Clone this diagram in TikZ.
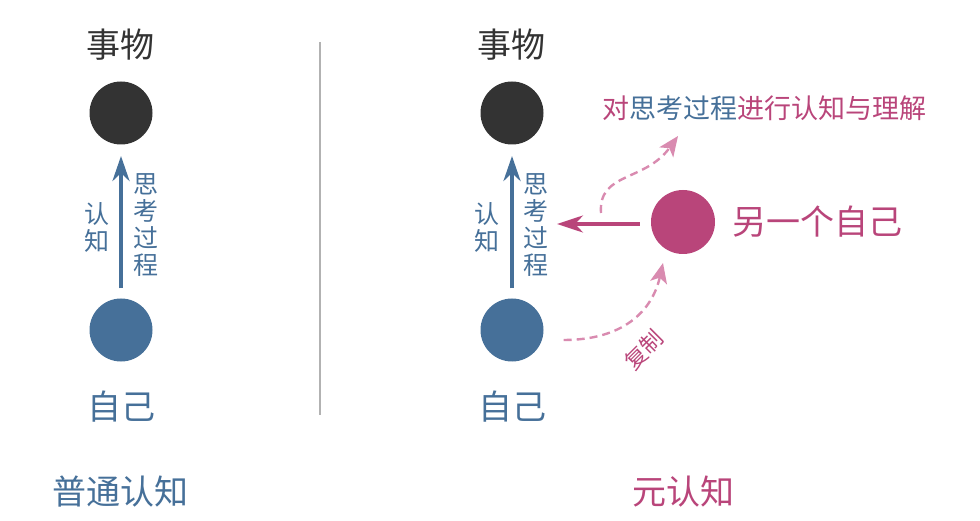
\documentclass[tikz,border=0pt]{standalone}
\usepackage{fontspec}
\setmainfont{Noto Sans CJK SC}
\usetikzlibrary{arrows.meta}
\usetikzlibrary{positioning}

\definecolor{thingdark}{HTML}{333333}
\definecolor{selfblue}{HTML}{467099}
\definecolor{metapink}{HTML}{B9457A}
\definecolor{copypink}{HTML}{D98BB0}

\tikzset{
    dot/.style={circle, minimum size=63pt, inner sep=0pt},
    bigtext/.style={font=\fontsize{34}{34}\selectfont},
    vtext/.style={font=\fontsize{25}{27}\selectfont, align=center, inner sep=0pt},
    thinkarrow/.style={-{Stealth[length=25pt,width=17pt,inset=8pt]}, line width=4pt, selfblue},
    copyarrow/.style={-{Stealth[length=20pt,width=17pt,inset=5pt]}, line width=2.4pt, copypink, dash pattern=on 8pt off 5pt}
}

\begin{document}
\begin{tikzpicture}[x=1pt, y=-1pt]
        \useasboundingbox (0,0) rectangle (980,521);

        % left: ordinary cognition
        \node[bigtext, thingdark] (thingL) at (120,45) {事物};
        \node[dot, fill=thingdark] (objL) at (121,113) {};
        \node[dot, fill=selfblue] (selfL) at (121,330) {};
        \node[bigtext, selfblue] (meL) at (121,407) {自己};
        \draw[thinkarrow] (selfL.north) ++(0,-10) coordinate (startL) -- (121,156) coordinate (endL);
        \node[vtext, selfblue] (knowL) at (97,227) {认\\知};
        \node[vtext, selfblue] (procL) at (146,225) {思\\考\\过\\程};
        \node[bigtext, selfblue] (titleL) at (120,492) {普通认知};

        % divider
        \draw[line width=1.5pt, gray!60] (320,42) coordinate (divtop) -- (320,415) coordinate (divbot);

        % right: metacognition
        \node[bigtext, thingdark] (thingR) at (511,45) {事物};
        \node[dot, fill=thingdark] (objR) at (512,113) {};
        \node[dot, fill=selfblue] (selfR) at (512,330) {};
        \node[bigtext, selfblue] (meR) at (512,407) {自己};
        \draw[thinkarrow] (selfR.north) ++(0,-10) coordinate (startR) -- (512,156) coordinate (endR);
        \node[vtext, selfblue] (knowR) at (487,227) {认\\知};
        \node[vtext, selfblue] (procR) at (536,225) {思\\考\\过\\程};
        \node[bigtext, metapink] (titleR) at (683,492) {元认知};

        % the other self
        \node[dot, fill=metapink, minimum size=64pt] (other) at (683,222) {};
        \node[bigtext, metapink, right=14pt of other] (otherlabel) {另一个自己};
        \draw[-{Stealth[length=26pt,width=17pt,inset=8pt]}, line width=3.3pt, metapink]
            (other.west) ++(-11,2) coordinate (watchfrom) -- (557,224) coordinate (watchto);

        % dashed copy arrows
        \node[font=\fontsize{27}{27}\selectfont, metapink] (understand) at (764,108)
            {对{\color{selfblue}思考过程}进行认知与理解};
        \draw[copyarrow] (601,213) .. controls (598,172) and (645,182) .. (678,136) coordinate (uptip);
        \draw[copyarrow] (selfR.east) ++(20,10) coordinate (copyfrom)
            .. controls (622,340) and (652,312) .. (663,263) coordinate (copyto);
        \node[font=\fontsize{22}{22}\selectfont, metapink, rotate=45, inner sep=1pt] (copylabel) at (644,350) {复制};
\end{tikzpicture}
\end{document}
